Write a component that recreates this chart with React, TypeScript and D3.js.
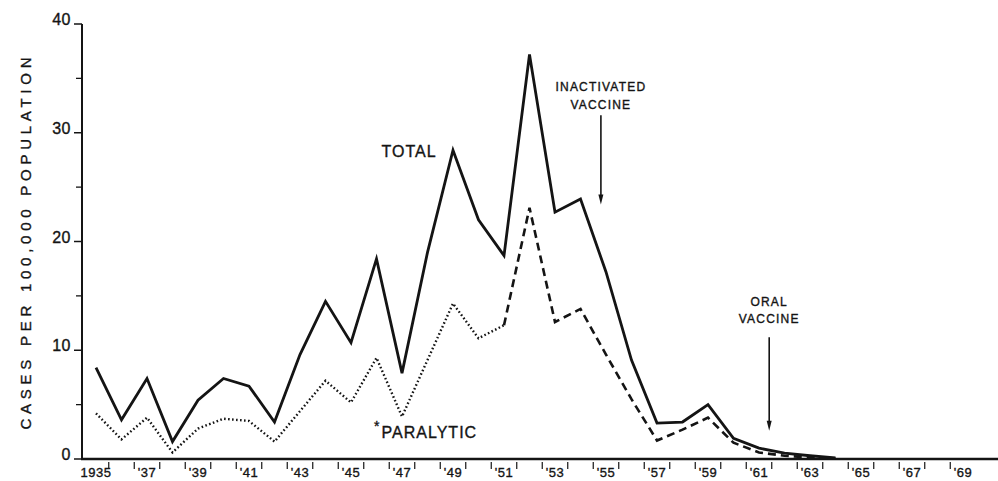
import { line, scaleLinear } from "d3";

// polio incidence, cases per 100,000
const years = [
  1935, 1936, 1937, 1938, 1939, 1940, 1941, 1942, 1943, 1944, 1945, 1946, 1947,
  1948, 1949, 1950, 1951, 1952, 1953, 1954, 1955, 1956, 1957, 1958, 1959, 1960,
  1961, 1962, 1963, 1964,
];
const total = [
  8.4, 3.6, 7.4, 1.6, 5.4, 7.4, 6.7, 3.4, 9.6, 14.5, 10.7, 18.4, 7.9, 19.0,
  28.4, 22.0, 18.7, 37.2, 22.7, 23.9, 17.2, 9.1, 3.3, 3.4, 5.0, 1.9, 1.0, 0.55,
  0.3, 0.1,
];
const paralytic = [
  4.2, 1.8, 3.8, 0.6, 2.8, 3.7, 3.5, 1.6, 4.4, 7.2, 5.2, 9.3, 3.9, 9.1, 14.3,
  11.1, 12.3, 23.1, 12.6, 13.8, 9.6, 5.5, 1.7, 2.7, 3.8, 1.5, 0.6, 0.3, 0.15,
  0.05,
];
// paralytic series switches from dotted to dashed in this year
const dashFrom = 1951;

const labelYears = [1935, 1937, 1939, 1941, 1943, 1945, 1947, 1949, 1951, 1953, 1955, 1957, 1959, 1961, 1963, 1965, 1967, 1969];
const tickYears = Array.from({ length: 34 }, (_, i) => 1935.5 + i);
const yMajor = [0, 10, 20, 30, 40];
const yMinor = [5, 15, 25, 35];

const W = 998;
const H = 481;
const FONT = "'Liberation Sans', Arial, sans-serif";
const INK = "#141414";

const x = scaleLinear().domain([1935, 1964]).range([96, 835.5]);
const y = scaleLinear().domain([0, 40]).range([459, 24]);
const axisX = 82;

type Pt = [number, number];

// lettering in the original is a bit heavier than a regular face
const ink = { fill: INK, stroke: INK, strokeWidth: 0.35 };

const App = () => {
  const totalPts: Pt[] = years.map((yr, i) => [yr, total[i]]);
  const paraPts: Pt[] = years.map((yr, i) => [yr, paralytic[i]]);
  const dotted = paraPts.filter((d) => d[0] <= dashFrom);
  const dashed = paraPts.filter((d) => d[0] >= dashFrom);

  const path = line<Pt>()
    .x((d) => x(d[0]))
    .y((d) => y(d[1]));

  const arrow = (yr: number, top: number, bottom: number) => {
    const ax = x(yr);
    const y0 = y(top);
    const y1 = y(bottom);
    return (
      <g>
        <line x1={ax} x2={ax} y1={y0} y2={y1 - 8} stroke={INK} strokeWidth={1.6} />
        <path d={`M${ax - 2.5},${y1 - 10} L${ax + 2.5},${y1 - 10} L${ax},${y1} Z`} fill={INK} />
      </g>
    );
  };

  return (
    <svg
      width={W}
      height={H}
      style={{ position: "absolute", left: 0, top: 0, background: "#fff" }}
      fontFamily={FONT}
    >
      <rect width={W} height={H} fill="#fff" />

      {/* axes */}
      <line x1={axisX} x2={axisX} y1={y(40)} y2={y(0) + 1} stroke={INK} strokeWidth={2} />
      <line x1={axisX - 1} x2={W} y1={y(0)} y2={y(0)} stroke={INK} strokeWidth={2.5} />

      {yMajor.map((v) => (
        <g key={v}>
          <line x1={axisX - 8} x2={axisX} y1={y(v)} y2={y(v)} stroke={INK} strokeWidth={1.5} />
          <text x={axisX - 11} y={y(v) + 1} textAnchor="end" fontSize={16} letterSpacing={0.5} {...ink}>
            {v}
          </text>
        </g>
      ))}
      {yMinor.map((v) => (
        <line key={v} x1={axisX - 6} x2={axisX} y1={y(v)} y2={y(v)} stroke={INK} strokeWidth={1.3} />
      ))}

      {tickYears.map((t) => (
        <line key={t} x1={x(t)} x2={x(t)} y1={y(0) + 3} y2={y(0) + 10} stroke={INK} strokeWidth={1.2} />
      ))}
      {labelYears.map((yr) => (
        <text key={yr} x={x(yr)} y={y(0) + 18} textAnchor="middle" fontSize={13} letterSpacing={0.5} {...ink}>
          {yr === 1935 ? "1935" : `'${String(yr).slice(2)}`}
        </text>
      ))}

      <text
        transform={`translate(31, ${y(20) + 2}) rotate(-90)`}
        textAnchor="middle"
        fontSize={15}
        textLength={372}
        lengthAdjust="spacing"
        {...ink}
      >
        CASES PER 100,000 POPULATION
      </text>

      {/* series */}
      <path d={path(totalPts) ?? ""} fill="none" stroke={INK} strokeWidth={2.8} strokeLinejoin="miter" />
      <path d={path(dotted) ?? ""} fill="none" stroke={INK} strokeWidth={2.4} strokeDasharray="1.6 2.4" />
      <path d={path(dashed) ?? ""} fill="none" stroke={INK} strokeWidth={2.6} strokeDasharray="8 5" />

      {/* labels */}
      <text x={x(1946.2)} y={y(27.8)} fontSize={16} letterSpacing={1} {...ink}>
        TOTAL
      </text>
      <text x={x(1945.9)} y={y(2.6)} fontSize={14} {...ink}>
        *
      </text>
      <text x={x(1946.2)} y={y(1.9)} fontSize={16} letterSpacing={1} {...ink}>
        PARALYTIC
      </text>

      <text x={x(1954.8)} y={y(33.8)} textAnchor="middle" fontSize={12} letterSpacing={1.2} {...ink}>
        INACTIVATED
      </text>
      <text x={x(1954.8)} y={y(32.2)} textAnchor="middle" fontSize={12} letterSpacing={1.2} {...ink}>
        VACCINE
      </text>
      {arrow(1954.8, 31.6, 23.4)}

      <text x={x(1961.4)} y={y(14.1)} textAnchor="middle" fontSize={12} letterSpacing={1.2} {...ink}>
        ORAL
      </text>
      <text x={x(1961.4)} y={y(12.5)} textAnchor="middle" fontSize={12} letterSpacing={1.2} {...ink}>
        VACCINE
      </text>
      {arrow(1961.4, 11.2, 2.6)}
    </svg>
  );
};

export default App;
